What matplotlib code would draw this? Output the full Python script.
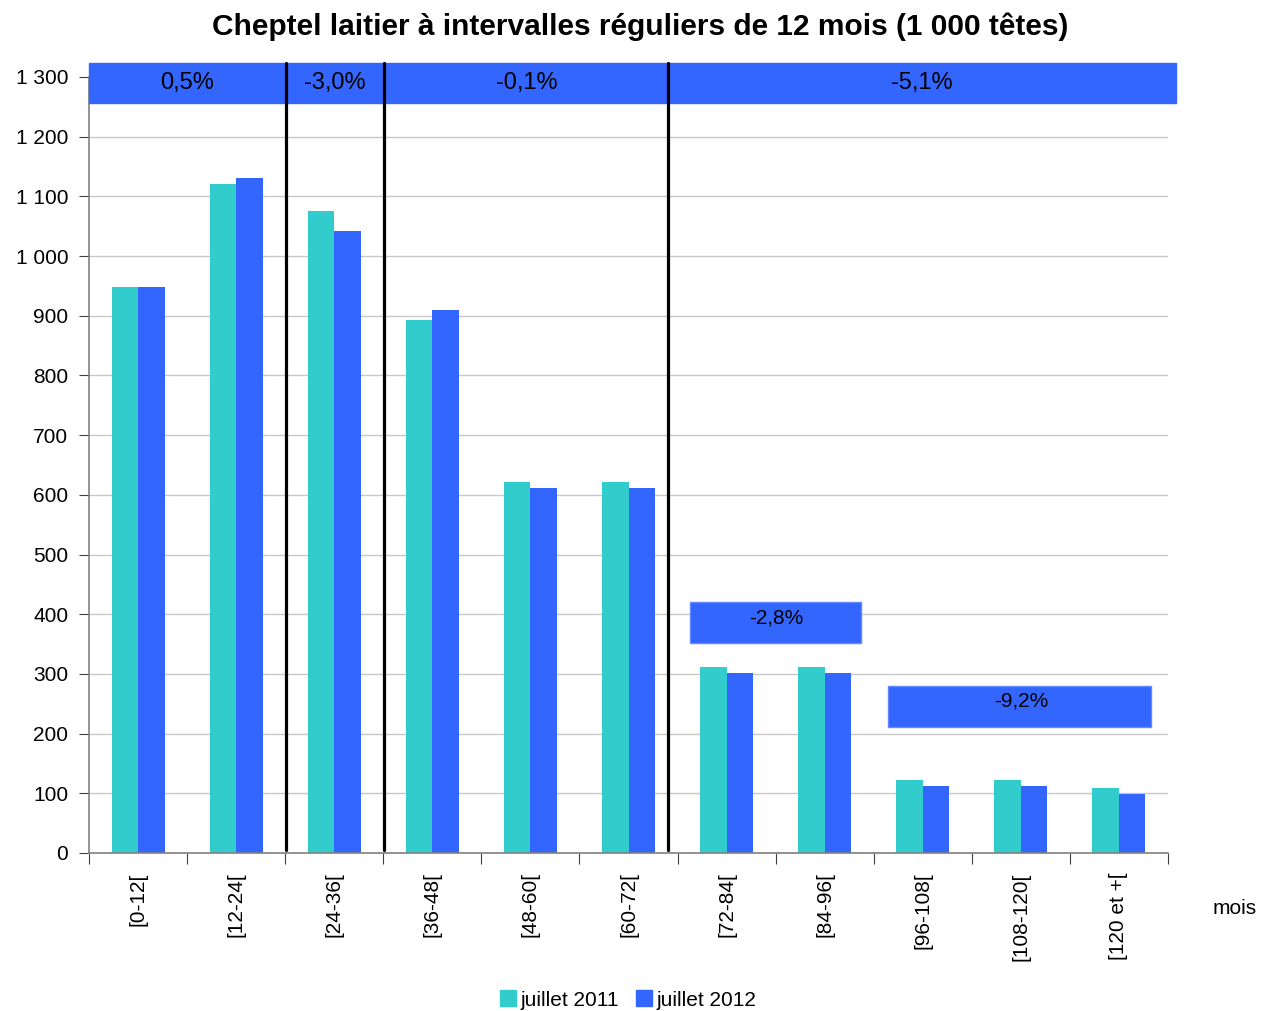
import matplotlib
matplotlib.use("Agg")
import matplotlib.pyplot as plt
from matplotlib.patches import Rectangle, Patch
import numpy as np

plt.rcParams["font.family"] = ["Liberation Sans", "DejaVu Sans"]

categories = ["[0-12[", "[12-24[", "[24-36[", "[36-48[", "[48-60[", "[60-72[",
              "[72-84[", "[84-96[", "[96-108[", "[108-120[", "[120 et +["]
juillet_2011 = [948, 1121, 1075, 893, 621, 621, 312, 312, 122, 122, 109]
juillet_2012 = [948, 1131, 1042, 910, 611, 611, 302, 302, 112, 112, 99]
yticks = [0, 100, 200, 300, 400, 500, 600, 700, 800, 900, 1000, 1100, 1200, 1300]
ytick_labels = ["0", "100", "200", "300", "400", "500", "600", "700", "800", "900",
                "1 000", "1 100", "1 200", "1 300"]

# evolution boxes
top_boxes = ["0,5%", "-3,0%", "-0,1%", "-5,1%"]
top_text_x = [0.5, 2.01, 3.96, 7.99]
separators = [1.51, 2.51, 5.40]
# (x start, x end, y bottom, y top, label, text x)
small_boxes = [(5.63, 7.37, 352, 420, "-2,8%", 6.51),
               (7.65, 10.33, 211, 280, "-9,2%", 9.0)]

teal = "#33CCCC"
blue = "#3366FF"

fig = plt.figure(figsize=(12.62, 10.11), dpi=100)
ax = fig.add_axes([89 / 1262, 1 - 853 / 1011, (1168 - 89) / 1262, (853 - 77) / 1011])

x = np.arange(len(categories))
w = 0.27
ax.bar(x - w / 2, juillet_2011, w, color=teal, zorder=2)
ax.bar(x + w / 2, juillet_2012, w, color=blue, zorder=2)

ax.set_xlim(-0.5, len(categories) - 0.5)
ax.set_ylim(0, 1300)
ax.set_yticks(yticks)
ax.set_yticklabels(ytick_labels, fontsize=15)
ax.set_xticks(np.arange(-0.5, len(categories)), [""] * (len(categories) + 1))
ax.set_xticks(x, categories, minor=True, rotation=90, fontsize=15)
ax.tick_params(axis="x", which="minor", length=0, pad=14)
ax.tick_params(axis="x", which="major", length=8, color="#404040")
ax.tick_params(axis="y", length=7, color="#404040", pad=8)
ax.grid(axis="y", color="#C8C8C8", linewidth=1, zorder=0)
ax.set_axisbelow(True)
for s in ["top", "right"]:
    ax.spines[s].set_visible(False)
for s in ["left", "bottom"]:
    ax.spines[s].set_color("#808080")
    ax.spines[s].set_linewidth(1.2)

# top band
ax.add_patch(Rectangle((-0.5, 1257), 11.08, 66, color=blue, clip_on=False, zorder=3))
for t, tx in zip(top_boxes, top_text_x):
    ax.text(tx, 1290, t, ha="center", va="center", fontsize=17, clip_on=False, zorder=5)
for sx in separators:
    ax.plot([sx, sx], [5, 1323], color="black", linewidth=2.3, clip_on=False,
            solid_capstyle="round", zorder=4)

for x0, x1, y0, y1, t, tx in small_boxes:
    ax.add_patch(Rectangle((x0, y0), x1 - x0, y1 - y0, facecolor=blue,
                           edgecolor="#6688FF", linewidth=1, zorder=3))
    ax.text(tx, y1 - 26, t, ha="center", va="center", fontsize=15, zorder=5)

fig.text(640 / 1262, 1 - 27 / 1011,
         "Cheptel laitier à intervalles réguliers de 12 mois (1 000 têtes)",
         ha="center", va="center", fontsize=21.5, fontweight="bold")
fig.text(1235 / 1262, 1 - 908 / 1011, "mois", ha="center", va="center", fontsize=15)

handles = [Patch(color=teal, label="juillet 2011"), Patch(color=blue, label="juillet 2012")]
fig.legend(handles=handles, loc="center", bbox_to_anchor=(628 / 1262, 1 - 1000 / 1011),
           ncol=2, frameon=False, fontsize=15, handlelength=0.8, handleheight=0.8,
           handletextpad=0.2, columnspacing=0.8)

fig.savefig("out.png", dpi=100)
